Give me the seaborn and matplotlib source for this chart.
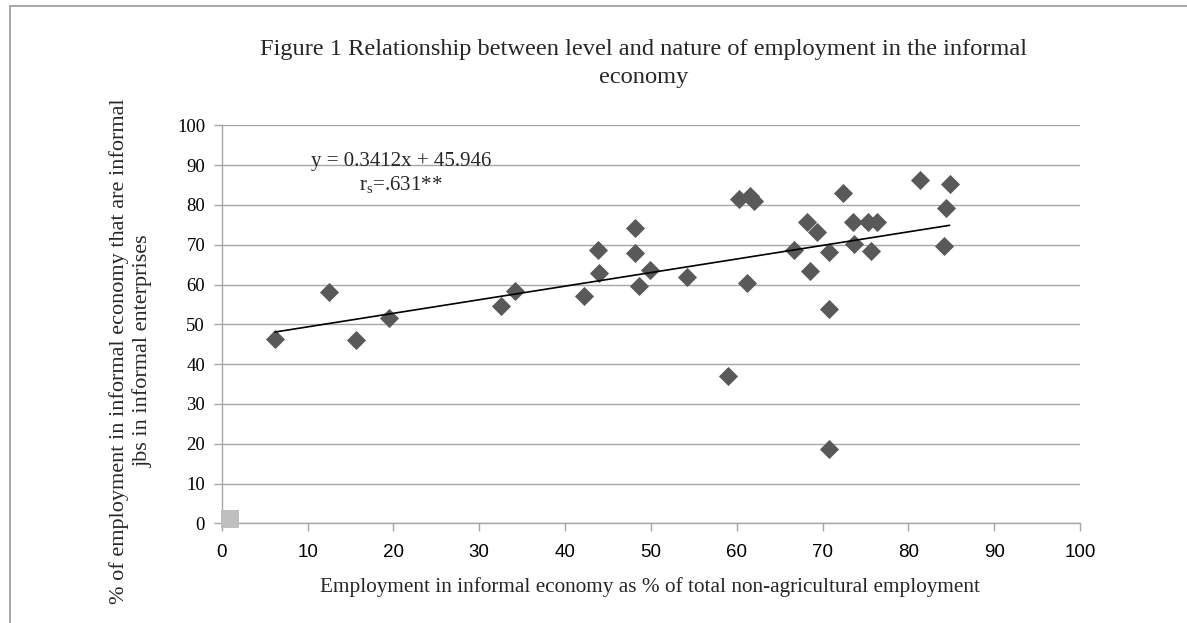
import numpy as np
import pandas as pd
import seaborn as sns
import matplotlib
matplotlib.use('Agg')
import matplotlib.pyplot as plt
from matplotlib import font_manager
from matplotlib.lines import Line2D

# data
informal_share = [6.2, 12.5, 15.6, 19.5, 32.5, 34.2, 42.2, 43.8, 44.0, 48.1, 48.1, 48.6,
                  49.9, 54.2, 59.0, 60.3, 61.5, 62.0, 61.2, 66.7, 68.2, 69.4, 68.5, 70.7,
                  70.7, 70.7, 72.4, 73.5, 73.7, 75.3, 76.4, 75.6, 81.3, 84.8, 84.4, 84.1]
informal_jobs = [46.3, 58.0, 46.0, 51.5, 54.6, 58.4, 57.2, 68.8, 62.8, 74.2, 67.8, 59.7,
                 63.7, 62.0, 37.0, 81.6, 82.3, 81.0, 60.4, 68.7, 75.8, 73.1, 63.3, 68.1,
                 53.8, 18.8, 83.1, 75.8, 70.2, 75.8, 75.8, 68.5, 86.2, 85.3, 79.3, 69.8]
extra_x = [1.0]
extra_y = [1.0]
slope = 0.3412
intercept = 45.946
ticks = list(range(0, 101, 10))

df = pd.DataFrame({'x': informal_share, 'y': informal_jobs})
df_extra = pd.DataFrame({'x': extra_x, 'y': extra_y})

sns.set_theme(style='white')
plt.rcParams['font.family'] = ['Liberation Serif', 'DejaVu Serif']
plt.rcParams['mathtext.fontset'] = 'stix'

names = {f.name for f in font_manager.fontManager.ttflist}
narrow = 'Liberation Sans Narrow' if 'Liberation Sans Narrow' in names else 'Liberation Sans'

grid_col = '#a6a6a6'

fig = plt.figure(figsize=(11.87, 6.23), dpi=100)
ax = fig.add_axes([0.1868, 0.160, 0.7231, 0.6388])

sns.scatterplot(data=df, x='x', y='y', marker='D', s=95, color='#595959',
                linewidth=0, ax=ax, zorder=3)
sns.scatterplot(data=df_extra, x='x', y='y', marker='s', s=185, color='#bfbfbf',
                linewidth=0, ax=ax, zorder=3, clip_on=False)

xs = np.array([min(informal_share), max(informal_share)])
ax.plot(xs, slope * xs + intercept, color='black', lw=1.2, zorder=4)

ax.set_xlim(0, 100)
ax.set_ylim(0, 100)
ax.set_xticks(ticks)
ax.set_yticks(ticks)
ax.set_xticklabels([str(t) for t in ticks], family=narrow, fontsize=13.5)
ax.set_yticklabels([str(t) for t in ticks], fontsize=13.5)
ax.yaxis.grid(True, color=grid_col, lw=1.0)
ax.xaxis.grid(False)
for side in ['top', 'right']:
    ax.spines[side].set_visible(False)
for side in ['left', 'bottom']:
    ax.spines[side].set_color(grid_col)
    ax.spines[side].set_linewidth(1.0)
ax.tick_params(axis='both', which='major', length=6, width=1.0, color=grid_col,
               direction='out', left=True, bottom=True, labelcolor='black')
ax.tick_params(axis='x', pad=9)
ax.tick_params(axis='y', pad=6)
ax.set_xlabel('')
ax.set_ylabel('')

ax.text(20.9, 91, 'y = 0.3412x + 45.946', ha='center', va='center', fontsize=15)
ax.text(20.9, 85.2, r'$\mathregular{r_s}$=.631**', ha='center', va='center', fontsize=15)

fig.text(0.5425, 0.898, 'Figure 1 Relationship between level and nature of employment in the informal\neconomy',
         ha='center', va='center', fontsize=17.6, linespacing=1.4)
fig.text(0.548, 0.058, 'Employment in informal economy as % of total non-agricultural employment',
         ha='center', va='center', fontsize=15.3)
fig.text(0.110, 0.437, '% of employment in informal economy that are informal\njbs in informal enterprises',
         ha='center', va='center', rotation=90, fontsize=16, linespacing=1.25)

# chart frame
fx = 10 / 1187
fy = 1 - 6 / 623
fig.add_artist(Line2D([fx, fx, 1], [0, fy, fy], transform=fig.transFigure,
                      color='#a0a0a0', lw=1.3))

fig.savefig('out.png', dpi=100)
